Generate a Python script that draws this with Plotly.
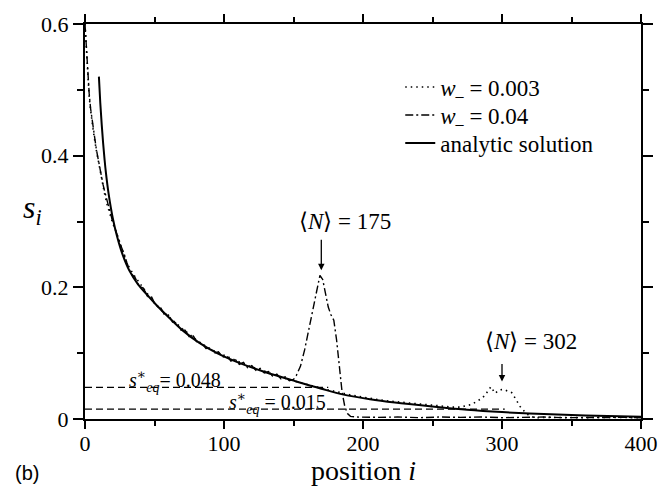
import plotly.graph_objects as go

# ---- analytic solution s_i ----
i_analytic = [10, 11, 12, 13, 14, 15, 17, 20, 23, 27, 32, 38, 45, 51, 60, 70, 82, 95,
              110, 130, 152, 170, 186, 205, 223, 250, 275, 300, 330, 360, 400]
s_analytic = [0.520, 0.480, 0.448, 0.420, 0.396, 0.375, 0.342, 0.305, 0.278, 0.250, 0.225,
              0.205, 0.188, 0.174, 0.155, 0.135, 0.116, 0.100, 0.086, 0.071, 0.057, 0.046,
              0.037, 0.030, 0.025, 0.019, 0.014, 0.0105, 0.0075, 0.0055, 0.0035]

# ---- simulation, w_ = 0.04 (peak at <N> = 175) ----
i_w004 = [0, 1, 2, 3, 4, 5, 6, 7, 8, 9, 10, 11, 12, 13, 14, 15, 16, 17, 18, 19, 20,
          22, 24, 26, 28, 30, 33, 36, 39, 42, 45, 48, 51, 54, 57, 60, 63, 66, 69, 72,
          75, 78, 81, 84, 87, 90, 93, 96, 99, 102, 105, 108, 111, 114, 117, 120, 123,
          126, 129, 132, 135, 138, 141, 144, 147, 150, 152, 155, 158, 161, 164, 167,
          169, 171, 173, 175, 177, 179, 181, 183, 185, 187, 189, 191, 195, 210, 225,
          240, 255, 270, 285, 300, 315, 330, 345, 360, 375, 390, 400]
s_w004 = [0.600, 0.565, 0.520, 0.495, 0.472, 0.455, 0.440, 0.425, 0.412, 0.400, 0.388,
          0.377, 0.366, 0.356, 0.347, 0.338, 0.329, 0.321, 0.314, 0.307, 0.299,
          0.287, 0.272, 0.262, 0.252, 0.238, 0.221, 0.215, 0.201, 0.199, 0.186, 0.185,
          0.172, 0.171, 0.159, 0.158, 0.147, 0.146, 0.135, 0.135, 0.125, 0.126, 0.115,
          0.116, 0.107, 0.108, 0.100, 0.102, 0.094, 0.096, 0.088, 0.091, 0.083, 0.086,
          0.078, 0.081, 0.074, 0.077, 0.070, 0.072, 0.065, 0.068, 0.061, 0.064, 0.058,
          0.060, 0.066, 0.080, 0.105, 0.135, 0.170, 0.200, 0.218, 0.212, 0.190, 0.170,
          0.158, 0.150, 0.120, 0.075, 0.040, 0.018, 0.008, 0.004, 0.003, 0.0025, 0.003,
          0.002, 0.003, 0.0025, 0.003, 0.002, 0.0025, 0.003, 0.002, 0.0025, 0.002,
          0.0025, 0.002]

# ---- simulation, w_ = 0.003 (peak at <N> = 302) ----
i_w0003 = [0, 1, 2, 3, 4, 5, 6, 8, 10, 12, 14, 16, 18, 20, 23, 26, 30, 35, 40, 45, 50,
           55, 60, 65, 70, 75, 80, 85, 90, 95, 100, 105, 110, 115, 120, 125, 130, 135,
           140, 145, 150, 155, 160, 165, 170, 175, 180, 185, 190, 195, 200, 205, 210,
           215, 220, 225, 230, 235, 240, 245, 250, 255, 260, 265, 270, 274, 278, 282,
           286, 289, 292, 295, 298, 301, 304, 307, 310, 313, 316, 319, 322, 326, 330,
           340, 350, 360, 370, 380, 390, 400]
s_w0003 = [0.600, 0.560, 0.515, 0.490, 0.470, 0.452, 0.437, 0.410, 0.386, 0.362, 0.343,
           0.325, 0.310, 0.297, 0.281, 0.262, 0.237, 0.219, 0.204, 0.190, 0.176, 0.165,
           0.156, 0.146, 0.137, 0.129, 0.120, 0.113, 0.107, 0.101, 0.097, 0.092, 0.087,
           0.083, 0.079, 0.076, 0.072, 0.068, 0.064, 0.061, 0.058, 0.055, 0.052, 0.049,
           0.047, 0.044, 0.042, 0.039, 0.037, 0.035, 0.033, 0.031, 0.030, 0.028, 0.027,
           0.026, 0.024, 0.023, 0.022, 0.021, 0.020, 0.019, 0.018, 0.018, 0.018, 0.020,
           0.022, 0.027, 0.032, 0.040, 0.049, 0.039, 0.044, 0.045, 0.043, 0.040, 0.030,
           0.019, 0.012, 0.006, 0.003, 0.002, 0.0025, 0.002, 0.0025, 0.002, 0.0025,
           0.002, 0.0025, 0.002]

# ---- equilibrium levels s*_eq and mean lengths <N> ----
s_eq_values = [0.048, 0.015]
N_means = [175, 302]

SERIF = "Liberation Serif, Times New Roman, serif"
BLACK = "black"

fig = go.Figure()

# horizontal dashed s*_eq levels, drawn from i = 0 up to <N>
for s_eq, n_mean in zip(s_eq_values, N_means):
    fig.add_trace(go.Scatter(x=[0, n_mean], y=[s_eq, s_eq], mode="lines",
                             line=dict(color=BLACK, width=1.3, dash="7px,4px"),
                             showlegend=False, hoverinfo="skip"))

# each curve gets its own one-row legend so the rows can sit close together
fig.add_trace(go.Scatter(x=i_w0003, y=s_w0003, mode="lines", legend="legend",
                         name="<i>w</i><sub>–</sub> = 0.003",
                         line=dict(color=BLACK, width=1.6, dash="1.5px,4px")))
fig.add_trace(go.Scatter(x=i_w004, y=s_w004, mode="lines", legend="legend2",
                         name="<i>w</i><sub>–</sub> = 0.04",
                         line=dict(color=BLACK, width=1.4, dash="8px,3px,2px,3px")))
fig.add_trace(go.Scatter(x=i_analytic, y=s_analytic, mode="lines", legend="legend3",
                         name="analytic solution", line_shape="spline",
                         line=dict(color=BLACK, width=2)))

axis_common = dict(showgrid=False, zeroline=False, showline=True, linecolor=BLACK,
                   linewidth=2, ticks="outside", tickwidth=2,
                   tickcolor=BLACK, mirror="allticks",
                   tickfont=dict(family=SERIF, size=22, color=BLACK))

fig.update_xaxes(range=[0, 400], tick0=0, dtick=100, ticklen=8, ticklabelstandoff=-4,
                 minor=dict(dtick=50, ticks="outside", ticklen=5, tickwidth=1.5,
                            tickcolor=BLACK),
                 **axis_common)
fig.update_yaxes(range=[0, 0.6], tick0=0, dtick=0.2, ticklen=10,
                 minor=dict(dtick=0.1, ticks="outside", ticklen=6, tickwidth=1.5,
                            tickcolor=BLACK),
                 **axis_common)


def paper_text(text, x, y, size, family=SERIF):
    return dict(text=text, x=x, y=y, xref="paper", yref="paper", showarrow=False,
                xanchor="center", yanchor="middle",
                font=dict(family=family, size=size, color=BLACK))


annotations = [
    paper_text("position <i>i</i>", 0.5, -0.131, 28),
    paper_text("<i>s</i><sub><i>i</i></sub>", -0.095, 0.53, 32),
    paper_text("(b)", -0.1046, -0.137, 20, "Liberation Sans, Arial, sans-serif"),
]

# s*_eq labels sitting on their dashed levels
STAR = '<span style="font-family:DejaVu Serif;fill:black">∗</span>'
for s_eq, x_left, y_mid, gap in [(s_eq_values[0], 30, 0.059, ""),
                                 (s_eq_values[1], 102, 0.025, " ")]:
    annotations.append(dict(
        text=f"<i>s</i><sup>{STAR}</sup><sub><i>eq</i></sub>{gap}= {s_eq}",
        x=x_left, y=y_mid, xanchor="left", yanchor="middle", showarrow=False,
        font=dict(family=SERIF, size=20, color=BLACK)))

# <N> labels with arrows pointing at the peaks
for n_mean, label_x, label_y, tip, length in [(N_means[0], 187, 0.300, 0.226, 32),
                                              (N_means[1], 321, 0.118, 0.057, 19)]:
    annotations.append(dict(text=f"⟨<i>N</i>⟩ = {n_mean}", x=label_x, y=label_y,
                            xanchor="center", yanchor="middle", showarrow=False,
                            font=dict(family=SERIF, size=23, color=BLACK)))
    annotations.append(dict(x=n_mean - 5 if n_mean == 175 else n_mean - 2, y=tip,
                            ax=0, ay=-length, text="", showarrow=True, arrowhead=2,
                            arrowsize=1, arrowwidth=1.3, arrowcolor=BLACK))

legend_common = dict(x=0.567, xanchor="left", yanchor="middle",
                     bgcolor="rgba(0,0,0,0)", borderwidth=0,
                     font=dict(family=SERIF, size=23, color=BLACK))

fig.update_layout(
    width=670, height=487,
    margin=dict(l=85, r=21, t=24, b=68),
    paper_bgcolor="white", plot_bgcolor="white",
    font=dict(family=SERIF, color=BLACK),
    annotations=annotations,
    legend=dict(y=0.8405, **legend_common),
    legend2=dict(y=0.7696, **legend_common),
    legend3=dict(y=0.6987, **legend_common),
)

fig.write_html("out.html")
